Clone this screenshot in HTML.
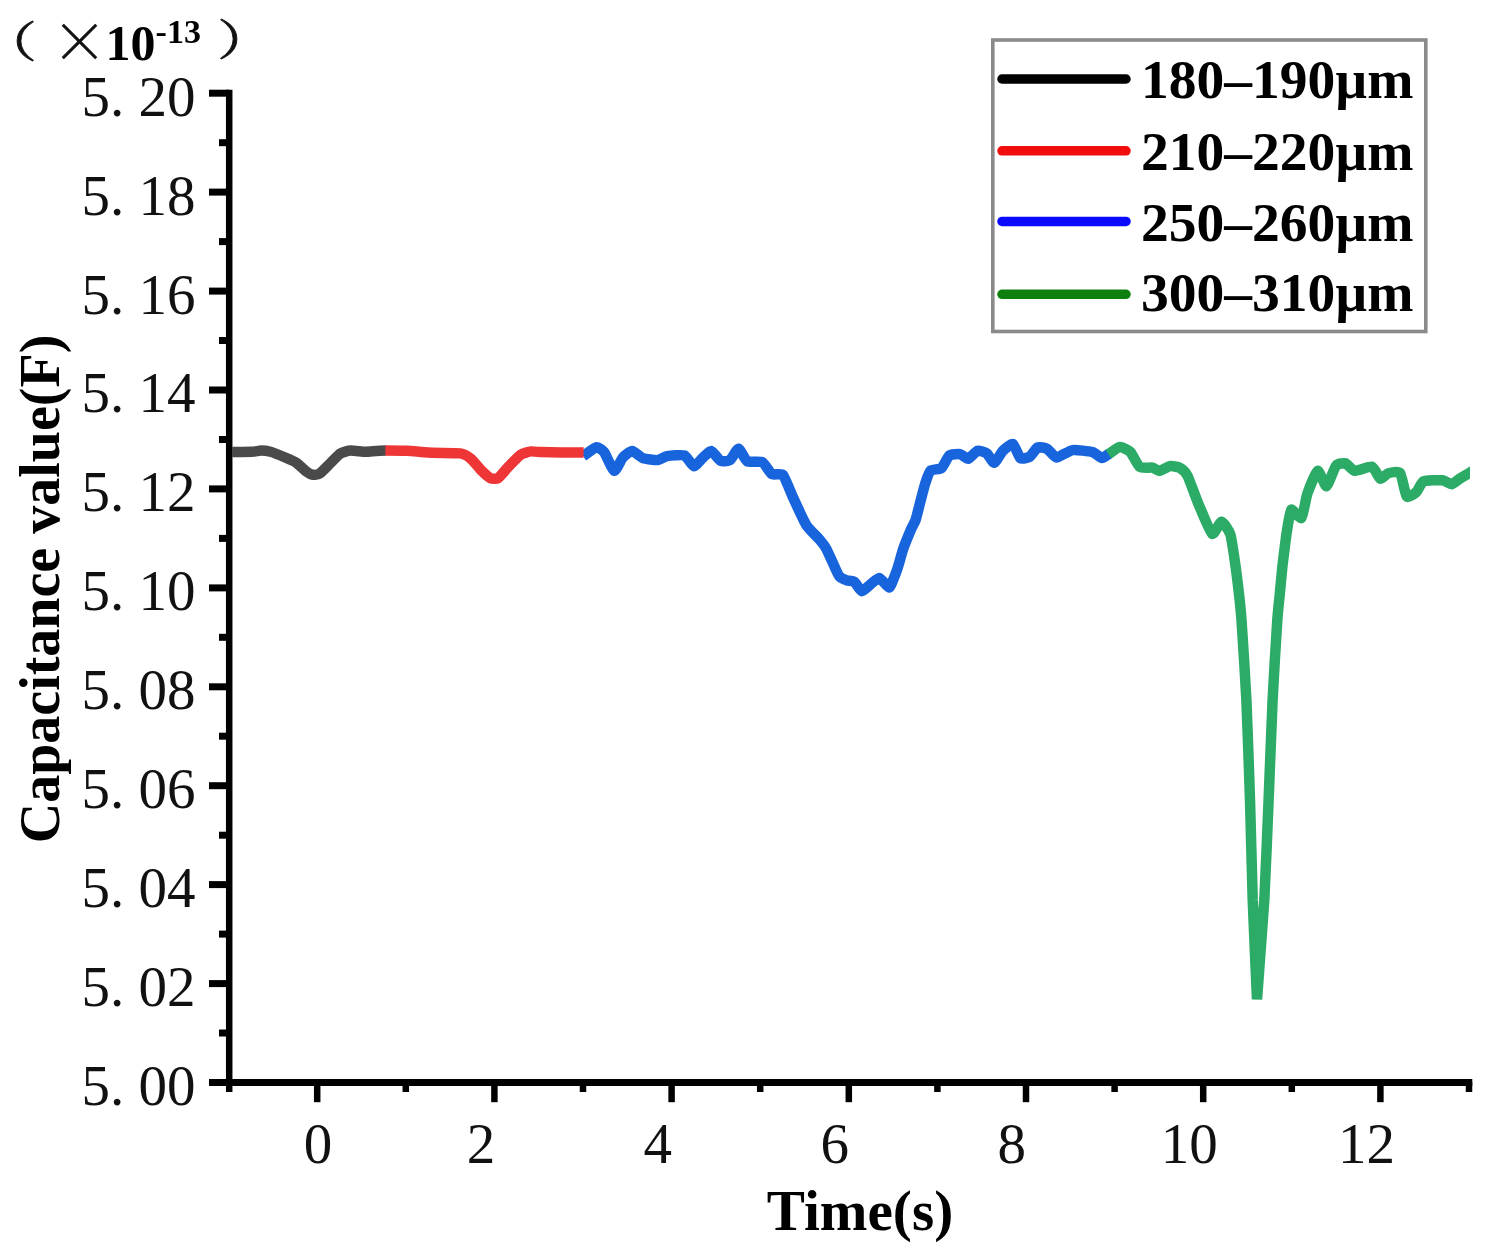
<!DOCTYPE html>
<html lang="en"><head><meta charset="utf-8"><title>Capacitance value vs Time</title>
<style>
html,body{margin:0;padding:0;background:#fff;}
body{width:1495px;height:1258px;overflow:hidden;}
svg{display:block;filter:blur(0.6px);}
.tk{font-family:"Liberation Serif","Noto Serif CJK SC",serif;font-size:57px;fill:#111;}
.b{font-family:"Liberation Serif",serif;font-weight:bold;fill:#000;}
.ln{fill:none;stroke-width:10.5;stroke-linejoin:round;}
</style></head><body>
<svg width="1495" height="1258" viewBox="0 0 1495 1258">
<rect width="1495" height="1258" fill="#fff"/>

<g stroke="#000" stroke-width="6.5" fill="none" stroke-linecap="butt">
<line x1="229.2" y1="89.8" x2="229.2" y2="1092"/>
<line x1="209" y1="1082.5" x2="1472.3" y2="1082.5" stroke-width="7"/>
<line x1="219" y1="1033.0" x2="229" y2="1033.0" stroke-width="7"/>
<line x1="209" y1="983.6" x2="229" y2="983.6" stroke-width="7"/>
<line x1="219" y1="934.1" x2="229" y2="934.1" stroke-width="7"/>
<line x1="209" y1="884.6" x2="229" y2="884.6" stroke-width="7"/>
<line x1="219" y1="835.2" x2="229" y2="835.2" stroke-width="7"/>
<line x1="209" y1="785.7" x2="229" y2="785.7" stroke-width="7"/>
<line x1="219" y1="736.2" x2="229" y2="736.2" stroke-width="7"/>
<line x1="209" y1="686.8" x2="229" y2="686.8" stroke-width="7"/>
<line x1="219" y1="637.3" x2="229" y2="637.3" stroke-width="7"/>
<line x1="209" y1="587.9" x2="229" y2="587.9" stroke-width="7"/>
<line x1="219" y1="538.4" x2="229" y2="538.4" stroke-width="7"/>
<line x1="209" y1="488.9" x2="229" y2="488.9" stroke-width="7"/>
<line x1="219" y1="439.5" x2="229" y2="439.5" stroke-width="7"/>
<line x1="209" y1="390.0" x2="229" y2="390.0" stroke-width="7"/>
<line x1="219" y1="340.5" x2="229" y2="340.5" stroke-width="7"/>
<line x1="209" y1="291.1" x2="229" y2="291.1" stroke-width="7"/>
<line x1="219" y1="241.6" x2="229" y2="241.6" stroke-width="7"/>
<line x1="209" y1="192.1" x2="229" y2="192.1" stroke-width="7"/>
<line x1="219" y1="142.7" x2="229" y2="142.7" stroke-width="7"/>
<line x1="209" y1="93.2" x2="229" y2="93.2" stroke-width="7"/>
<line x1="317.2" y1="1082" x2="317.2" y2="1102.2"/>
<line x1="405.8" y1="1082" x2="405.8" y2="1092"/>
<line x1="494.4" y1="1082" x2="494.4" y2="1102.2"/>
<line x1="583.0" y1="1082" x2="583.0" y2="1092"/>
<line x1="671.6" y1="1082" x2="671.6" y2="1102.2"/>
<line x1="760.2" y1="1082" x2="760.2" y2="1092"/>
<line x1="848.8" y1="1082" x2="848.8" y2="1102.2"/>
<line x1="937.4" y1="1082" x2="937.4" y2="1092"/>
<line x1="1026.0" y1="1082" x2="1026.0" y2="1102.2"/>
<line x1="1114.6" y1="1082" x2="1114.6" y2="1092"/>
<line x1="1203.2" y1="1082" x2="1203.2" y2="1102.2"/>
<line x1="1291.8" y1="1082" x2="1291.8" y2="1092"/>
<line x1="1380.4" y1="1082" x2="1380.4" y2="1102.2"/>
<line x1="1469.0" y1="1082" x2="1469.0" y2="1092"/>
</g>
<g class="tk">
<text x="81.5" y="1104.9">5.<tspan dx="14.2">00</tspan></text>
<text x="81.5" y="1006.0">5.<tspan dx="14.2">02</tspan></text>
<text x="81.5" y="907.0">5.<tspan dx="14.2">04</tspan></text>
<text x="81.5" y="808.1">5.<tspan dx="14.2">06</tspan></text>
<text x="81.5" y="709.2">5.<tspan dx="14.2">08</tspan></text>
<text x="81.5" y="610.3">5.<tspan dx="14.2">10</tspan></text>
<text x="81.5" y="511.3">5.<tspan dx="14.2">12</tspan></text>
<text x="81.5" y="412.4">5.<tspan dx="14.2">14</tspan></text>
<text x="81.5" y="313.5">5.<tspan dx="14.2">16</tspan></text>
<text x="81.5" y="214.5">5.<tspan dx="14.2">18</tspan></text>
<text x="81.5" y="115.6">5.<tspan dx="14.2">20</tspan></text>
<text x="318.0" y="1163.2" text-anchor="middle">0</text>
<text x="481.0" y="1163.2" text-anchor="middle">2</text>
<text x="657.7" y="1163.2" text-anchor="middle">4</text>
<text x="834.7" y="1163.2" text-anchor="middle">6</text>
<text x="1011.7" y="1163.2" text-anchor="middle">8</text>
<text x="1189.2" y="1163.2" text-anchor="middle">10</text>
<text x="1366.6" y="1163.2" text-anchor="middle">12</text>
</g>
<text class="b" x="860" y="1229.6" text-anchor="middle" font-size="57.2">Time(s)</text>
<text class="b" transform="translate(59.3,589) rotate(-90)" text-anchor="middle" font-size="56">Capacitance value(F)</text>
<text transform="translate(25.2 43) scale(1.24 .93) translate(-25 -42.5)" x="-11.4" y="58.9" style="font-family:'Noto Serif CJK SC','Liberation Serif',serif;font-size:46px" fill="#111" stroke="#111" stroke-width=".7">（</text>
<text x="51" y="61.6" style="font-family:'Noto Serif CJK SC','Liberation Serif',serif;font-size:57px" fill="#111" stroke="#111" stroke-width=".5">×</text>
<text transform="translate(229.1 40.8) scale(1.24 .93) translate(-229.5 -40.5)" x="219.8" y="56.7" style="font-family:'Noto Serif CJK SC','Liberation Serif',serif;font-size:46px" fill="#111" stroke="#111" stroke-width=".7">）</text>
<text class="b" x="105.6" y="59.6" font-size="50">10<tspan dy="-17" font-size="34">-13</tspan></text>
<clipPath id="pc"><rect x="229" y="80" width="1241" height="1000"/></clipPath><g clip-path="url(#pc)">
<path class="ln" stroke="#1764dc" d="M583.2,456.1C584.4,455.3 594.2,447.8 596.1,447.4C598.0,447.0 602.4,450.0 604.1,452.1C605.8,454.2 612.5,470.3 614.2,470.8C615.9,471.3 621.2,459.3 622.9,457.5C624.5,455.7 630.4,450.9 632.2,451.0C634.0,451.1 640.6,457.3 642.9,458.1C645.2,458.9 655.5,460.3 657.7,460.1C659.9,459.9 664.6,456.5 667.0,456.1C669.4,455.7 681.9,454.6 684.4,455.5C686.9,456.4 692.1,466.0 693.8,466.2C695.5,466.4 701.5,458.9 703.1,457.5C704.7,456.1 709.6,450.7 711.2,451.0C712.8,451.3 718.8,460.0 720.5,460.8C722.2,461.6 728.2,461.2 729.9,460.1C731.6,459.0 737.0,448.7 738.6,448.8C740.2,448.9 745.0,460.1 747.2,461.3C749.4,462.5 760.0,460.9 762.3,462.1C764.6,463.3 769.9,472.9 771.8,474.1C773.7,475.3 781.0,472.9 782.9,474.9C784.8,476.9 790.4,491.7 792.5,496.3C794.6,500.9 803.7,520.8 806.1,524.7C808.5,528.6 816.9,536.6 818.7,538.7C820.5,540.8 824.4,545.5 825.9,548.1C827.4,550.7 833.4,564.2 834.6,566.8C835.8,569.4 838.4,575.3 839.5,576.5C840.6,577.7 845.4,579.9 846.8,580.4C848.2,580.9 852.9,580.8 854.3,581.8C855.7,582.8 860.3,591.0 861.8,591.2C863.3,591.4 869.6,584.9 871.2,583.7C872.8,582.5 878.0,577.8 879.6,578.1C881.2,578.4 887.7,587.4 889.0,587.5C890.3,587.6 892.7,580.9 893.5,579.0C894.3,577.1 897.1,569.6 898.0,566.8C898.9,564.0 902.3,551.5 903.5,548.1C904.7,544.7 909.9,532.0 911.0,529.4C912.1,526.8 914.8,522.4 915.6,520.0C916.4,517.6 919.1,506.4 920.0,503.0C920.9,499.6 924.4,485.9 925.4,482.9C926.4,479.9 929.2,471.8 930.7,470.5C932.2,469.2 939.7,469.6 941.4,468.2C943.1,466.8 947.7,456.8 949.4,455.5C951.1,454.2 958.4,453.8 960.1,454.1C961.8,454.4 966.6,459.1 968.2,458.8C969.8,458.5 975.8,451.3 977.5,450.8C979.2,450.3 985.4,452.3 986.9,453.4C988.4,454.5 992.7,463.0 994.2,462.8C995.7,462.6 1001.2,452.5 1002.9,450.8C1004.6,449.1 1011.4,443.4 1013.0,444.1C1014.6,444.8 1018.8,456.9 1020.3,458.1C1021.8,459.3 1028.1,457.8 1029.7,456.8C1031.3,455.8 1036.1,448.1 1037.7,447.4C1039.3,446.7 1045.4,447.9 1047.1,448.8C1048.8,449.7 1054.2,457.4 1056.5,457.5C1058.8,457.6 1069.2,450.6 1072.5,450.1C1075.8,449.6 1089.9,451.4 1092.6,452.1C1095.3,452.8 1100.4,458.0 1101.9,458.1C1103.4,458.2 1108.8,453.8 1109.5,453.4"/>
<path class="ln" stroke="#2bab66" style="stroke-linejoin:bevel" d="M1108.5,454.2C1109.5,453.5 1117.9,447.2 1119.9,447.0C1121.9,446.8 1128.4,450.0 1130.2,451.8C1132.0,453.6 1137.7,465.4 1139.7,466.9C1141.7,468.4 1150.7,467.3 1152.5,467.7C1154.3,468.1 1158.0,471.0 1159.6,470.9C1161.2,470.8 1168.2,466.4 1170.0,466.1C1171.8,465.8 1177.9,466.8 1179.5,467.7C1181.1,468.6 1185.6,472.2 1187.4,475.6C1189.2,479.0 1196.3,499.0 1198.6,504.3C1200.9,509.6 1210.0,532.1 1212.1,533.7C1214.2,535.3 1219.9,521.6 1221.6,521.7C1223.3,521.8 1229.2,530.7 1230.4,534.5C1231.6,538.3 1234.3,557.6 1235.1,563.1C1235.9,568.6 1238.5,589.7 1239.1,594.9C1239.7,600.1 1240.8,610.4 1241.5,620.0C1242.2,629.6 1245.6,683.5 1246.4,700.0C1247.2,716.5 1249.4,781.7 1250.0,800.0C1250.6,818.3 1252.1,881.7 1252.7,900.0C1253.3,918.3 1255.6,966.2 1257.0,999.3C1259.4,966.2 1263.2,918.3 1264.3,900.0C1265.4,881.7 1267.8,818.3 1268.6,800.0C1269.4,781.7 1271.8,716.5 1272.6,700.0C1273.4,683.5 1276.6,629.6 1277.3,620.0C1278.0,610.4 1279.2,600.1 1279.7,594.9C1280.2,589.7 1282.1,568.9 1282.8,563.1C1283.5,557.3 1286.0,536.7 1286.8,531.8C1287.6,526.9 1289.9,511.1 1291.2,509.8C1292.5,508.5 1300.0,519.4 1301.5,517.9C1303.0,516.4 1305.9,497.9 1307.4,493.6C1308.9,489.3 1315.9,471.5 1317.7,470.8C1319.5,470.1 1324.8,486.7 1326.5,486.2C1328.2,485.7 1334.3,467.7 1336.1,465.6C1337.9,463.5 1343.9,462.9 1345.6,463.4C1347.3,463.9 1352.1,470.5 1354.5,470.8C1356.9,471.1 1369.7,466.1 1372.1,466.8C1374.5,467.5 1378.7,478.0 1380.2,478.6C1381.7,479.2 1386.5,473.7 1388.3,473.2C1390.1,472.7 1398.4,470.9 1400.1,473.0C1401.8,475.1 1405.2,494.7 1406.7,496.5C1408.2,498.3 1414.8,493.5 1416.3,492.1C1417.8,490.7 1421.2,482.4 1423.6,481.3C1426.0,480.2 1440.2,480.0 1442.8,480.3C1445.4,480.6 1450.0,484.5 1451.6,484.3C1453.2,484.1 1458.8,479.2 1460.4,478.2C1462.0,477.2 1467.7,473.9 1469.3,473.0C1470.9,472.1 1477.2,468.5 1478.0,468.0"/>
<path class="ln" stroke="#4a4a4a" d="M232.0,452.1C233.8,452.1 249.1,451.9 251.8,451.8C254.5,451.7 259.4,450.5 261.1,450.5C262.8,450.5 268.3,451.2 270.5,451.8C272.7,452.4 282.8,456.5 285.2,457.5C287.6,458.5 294.6,461.5 296.5,462.8C298.4,464.1 304.8,470.4 306.3,471.5C307.8,472.6 311.6,474.6 312.8,474.8C314.0,475.0 318.2,474.6 319.8,473.5C321.4,472.4 328.9,464.6 330.8,462.8C332.7,461.0 338.6,454.5 340.4,453.4C342.2,452.3 348.5,450.6 350.8,450.5C353.1,450.4 363.2,451.8 365.5,451.8C367.8,451.8 374.3,451.1 376.2,451.0C378.1,450.9 385.1,450.6 386.0,450.6"/>
<path class="ln" stroke="#ee3636" d="M385.4,450.5C387.4,450.5 402.4,450.6 406.8,450.8C411.2,451.0 428.6,452.6 433.5,452.8C438.4,453.0 456.9,452.8 460.3,453.4C463.7,453.9 469.0,457.2 471.0,458.8C473.0,460.4 479.9,469.0 481.7,470.8C483.5,472.6 489.0,477.5 490.5,478.2C492.0,478.9 496.4,479.2 498.0,478.2C499.6,477.2 506.3,468.9 508.4,466.8C510.5,464.7 518.4,456.2 520.5,454.8C522.6,453.4 529.4,451.6 531.2,451.4C533.0,451.2 535.7,452.0 540.5,452.1C545.3,452.2 579.6,452.6 583.6,452.6"/>
</g>
<rect x="992.8" y="40" width="433" height="291.5" fill="#fff" stroke="#8a8a8a" stroke-width="3.6"/>
<line x1="1002" y1="79.0" x2="1126" y2="79.0" stroke="#000" stroke-width="9.5" stroke-linecap="round"/>
<text class="b" x="1141" y="98.3" font-size="55.5">180–190µm</text>
<line x1="1002" y1="150.8" x2="1126" y2="150.8" stroke="#f20d0d" stroke-width="9.5" stroke-linecap="round"/>
<text class="b" x="1141" y="170.0" font-size="55.5">210–220µm</text>
<line x1="1002" y1="221.4" x2="1126" y2="221.4" stroke="#0a0aff" stroke-width="9.5" stroke-linecap="round"/>
<text class="b" x="1141" y="240.9" font-size="55.5">250–260µm</text>
<line x1="1002" y1="294.3" x2="1126" y2="294.3" stroke="#0d800d" stroke-width="9.5" stroke-linecap="round"/>
<text class="b" x="1141" y="311.4" font-size="55.5">300–310µm</text>
</svg></body></html>
